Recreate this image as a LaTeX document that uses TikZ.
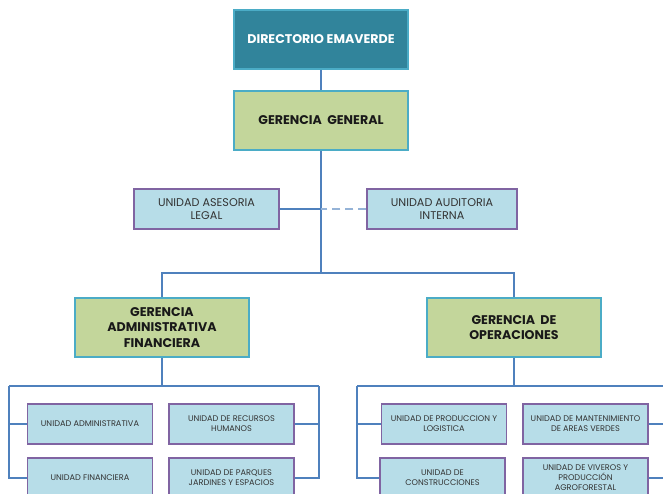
\documentclass[tikz,border=0pt]{standalone}
\usepackage{fontspec}
\setmainfont{Poppins}
\usetikzlibrary{positioning}
\definecolor{dirfill}{HTML}{31849B}
\definecolor{boxline}{HTML}{4BACC6}
\definecolor{gerfill}{HTML}{C3D69B}
\definecolor{unifill}{HTML}{B7DDE8}
\definecolor{uniline}{HTML}{8064A2}
\definecolor{conn}{HTML}{4F81BD}
\definecolor{connlight}{HTML}{95B3D7}

\begin{document}
\begin{tikzpicture}[x=1pt,y=-1pt,line width=1.4pt,conn,
    top/.style={draw=boxline,line width=1.8pt,fill=dirfill,text=white,font=\bfseries\fontsize{12.6}{15.5}\selectfont,
      minimum width=174pt,minimum height=59pt,inner sep=0pt,align=center},
    gerencia/.style={top,fill=gerfill,text=black!90},
    unidad/.style={draw=uniline,line width=1.2pt,fill=unifill,text=black!80,font=\fontsize{11.2}{12.2}\selectfont,
      minimum width=145pt,minimum height=40pt,inner sep=0pt,align=center},
    subunidad/.style={unidad,font=\fontsize{8.2}{10}\selectfont,minimum width=125pt}]
        \useasboundingbox (0,0) rectangle (663,494);
        \clip (0,0) rectangle (663,494);

        \node[top]      (dir)  at (321,39.5)  {DIRECTORIO EMAVERDE};
        \node[gerencia] (gg)   at (321,120.5) {GERENCIA\ \ GENERAL};
        \node[unidad]   (ual)  at (206.5,209) {UNIDAD ASESORIA\\LEGAL};
        \node[unidad,minimum width=150pt] (uai) at (442,209) {UNIDAD AUDITORIA\\INTERNA};
        \node[gerencia] (gaf)  at (162,327.5) {GERENCIA\\ADMINISTRATIVA\\FINANCIERA};
        \node[gerencia] (gop)  at (514,327.5) {GERENCIA\ \ DE\\OPERACIONES};

        \node[subunidad] (uadm) at (90,424)    {UNIDAD ADMINISTRATIVA};
        \node[subunidad] (urh)  at (231.5,424) {UNIDAD DE RECURSOS\\HUMANOS};
        \node[subunidad] (ufin) at (90,478)    {UNIDAD FINANCIERA};
        \node[subunidad] (upar) at (231.5,478) {UNIDAD DE PARQUES\\JARDINES Y ESPACIOS};
        \node[subunidad] (uprod) at (444,424)  {UNIDAD DE PRODUCCION Y\\LOGISTICA};
        \node[subunidad] (uman) at (585.5,424) {UNIDAD DE MANTENIMIENTO\\DE AREAS VERDES};
        \node[subunidad] (ucon) at (442.5,478) {UNIDAD DE\\CONSTRUCCIONES};
        \node[subunidad] (uviv) at (585.5,478) {UNIDAD DE VIVEROS Y\\PRODUCCIÓN\\AGROFORESTAL};

        \coordinate (hub)   at (321,273);
        \coordinate (lbus)  at (9,386);
        \coordinate (rbus)  at (319,386);
        \coordinate (lbus2) at (357,386);
        \coordinate (rbus2) at (690,386);

        % linea de mando
        \draw (dir) -- (gg);
        \draw (gg.south) -- (hub);
        \draw (ual.east) -- (ual.east -| gg.south);
        \draw[connlight,dashed,dash pattern=on 8pt off 5pt] (uai.west) -- (uai.west -| gg.south);
        \draw (hub) -| (gaf.north);
        \draw (hub) -| (gop.north);

        % unidades
        \draw (gaf.south) |- (lbus) (gaf.south) |- (rbus);
        \draw (lbus) |- (uadm.west) (lbus) |- (ufin.west);
        \draw (rbus) |- (urh.east) (rbus) |- (upar.east);
        \draw (gop.south) |- (lbus2) (gop.south) |- (rbus2);
        \draw (lbus2) |- (uprod.west) (lbus2) |- (ucon.west);
        \draw (rbus2) |- (uman.east) (rbus2) |- (uviv.east);
    \end{tikzpicture}
\end{document}
